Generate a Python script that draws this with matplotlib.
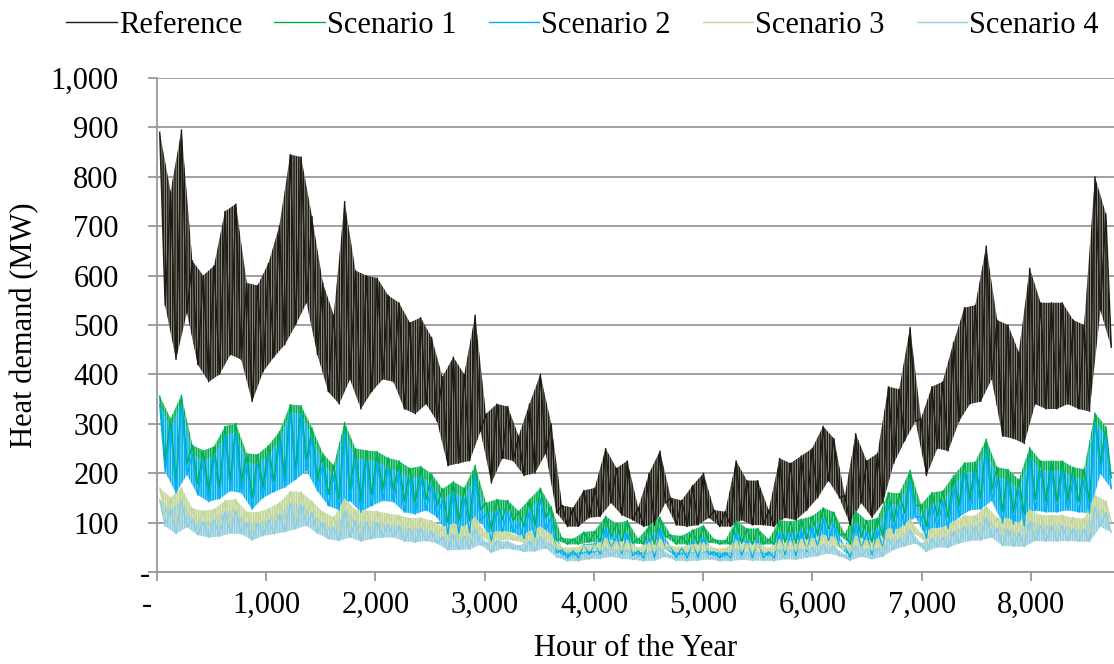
import numpy as np
import matplotlib
matplotlib.use('Agg')
import matplotlib.pyplot as plt
from matplotlib.lines import Line2D
from matplotlib.transforms import ScaledTranslation

ref_hi = [890, 770, 895, 630, 600, 620, 730, 745, 585, 580, 625, 700, 845, 840, 720, 585,
          520, 750, 610, 600, 595, 560, 545, 505, 515, 475, 395, 435, 400, 520, 320, 340,
          335, 275, 340, 400, 300, 135, 130, 165, 170, 250, 210, 225, 130, 200, 245, 150,
          145, 175, 200, 125, 122, 225, 185, 185, 125, 230, 220, 235, 250, 295, 270, 155,
          280, 225, 240, 375, 370, 495, 310, 375, 385, 465, 535, 540, 660, 510, 500, 445,
          615, 545, 545, 545, 510, 500, 800, 725]
ref_lo = [540, 430, 525, 420, 385, 400, 440, 430, 345, 405, 435, 460, 500, 545, 440, 365,
          340, 390, 330, 365, 390, 385, 330, 320, 340, 305, 215, 220, 225, 285, 180, 230,
          225, 195, 200, 240, 120, 92, 92, 110, 112, 140, 115, 105, 92, 95, 140, 95,
          92, 95, 110, 92, 92, 105, 95, 95, 92, 110, 105, 125, 150, 185, 150, 95,
          140, 110, 140, 220, 265, 305, 195, 250, 245, 305, 340, 345, 390, 275, 270, 260,
          340, 330, 330, 340, 330, 325, 530, 455]

s1_hi = [356, 311, 358, 257, 246, 254, 295, 301, 240, 238, 256, 284, 339, 337, 292, 240,
         216, 303, 250, 246, 244, 231, 225, 210, 214, 199, 168, 183, 170, 216, 140, 147,
         145, 123, 147, 170, 132, 69, 67, 81, 83, 113, 98, 104, 67, 94, 111, 75,
         73, 85, 94, 66, 64, 104, 88, 88, 66, 105, 102, 107, 113, 130, 121, 77,
         124, 104, 109, 161, 159, 206, 136, 161, 164, 195, 221, 223, 269, 212, 208, 187,
         252, 225, 225, 225, 212, 208, 322, 294]
s1_lo = [223, 181, 218, 178, 164, 170, 185, 181, 149, 172, 183, 193, 208, 225, 185, 157,
         147, 166, 143, 157, 166, 164, 143, 140, 147, 134, 100, 102, 104, 126, 86, 105,
         104, 92, 94, 109, 64, 56, 56, 60, 61, 71, 62, 58, 56, 56, 71, 56,
         56, 56, 60, 56, 56, 58, 56, 56, 56, 60, 58, 66, 75, 88, 75, 56,
         71, 60, 71, 102, 119, 134, 92, 113, 111, 134, 147, 149, 166, 123, 121, 117,
         147, 143, 143, 147, 143, 142, 219, 191]

s2_hi = [339, 292, 341, 238, 226, 234, 277, 283, 220, 218, 236, 265, 322, 320, 273, 220,
         195, 285, 230, 226, 224, 210, 205, 189, 193, 177, 146, 162, 148, 195, 117, 125,
         123, 99, 125, 148, 109, 45, 43, 56, 58, 90, 74, 80, 43, 70, 88, 51,
         49, 60, 70, 41, 40, 80, 64, 64, 41, 82, 78, 84, 90, 107, 97, 52,
         101, 80, 86, 138, 136, 185, 113, 138, 142, 173, 201, 203, 249, 191, 187, 166,
         232, 205, 205, 205, 191, 187, 304, 275]
s2_lo = [203, 160, 197, 156, 142, 148, 164, 160, 127, 150, 162, 171, 187, 205, 164, 134,
         125, 144, 121, 134, 144, 142, 121, 117, 125, 111, 76, 78, 80, 103, 62, 82,
         80, 68, 70, 86, 39, 28, 28, 35, 36, 47, 37, 33, 28, 29, 47, 29,
         28, 29, 35, 28, 28, 33, 29, 29, 28, 35, 33, 41, 51, 64, 51, 29,
         47, 35, 47, 78, 95, 111, 68, 90, 88, 111, 125, 127, 144, 99, 97, 93,
         125, 121, 121, 125, 121, 119, 199, 169]

s3_hi = [170, 151, 171, 129, 124, 127, 145, 147, 122, 121, 128, 140, 163, 162, 143, 122,
         111, 148, 126, 124, 123, 118, 115, 109, 110, 104, 91, 98, 92, 111, 79, 82,
         82, 72, 82, 92, 76, 50, 49, 54, 55, 68, 62, 64, 49, 60, 67, 52,
         51, 56, 60, 48, 48, 64, 58, 58, 48, 65, 63, 66, 68, 75, 71, 53,
         73, 64, 66, 88, 87, 107, 78, 88, 90, 102, 114, 114, 134, 110, 108, 99,
         126, 115, 115, 115, 110, 108, 156, 144]
s3_lo = [114, 97, 112, 95, 90, 92, 98, 97, 83, 93, 98, 102, 108, 115, 98, 86,
         82, 90, 81, 86, 90, 90, 81, 79, 82, 77, 62, 63, 64, 74, 57, 65,
         64, 59, 60, 66, 47, 40, 40, 43, 43, 47, 43, 42, 40, 40, 47, 40,
         40, 40, 43, 40, 40, 42, 40, 40, 40, 43, 42, 45, 49, 55, 49, 40,
         47, 43, 47, 63, 70, 77, 59, 68, 67, 77, 82, 83, 90, 72, 71, 70,
         82, 81, 81, 82, 81, 80, 113, 101]

s4_hi = [146, 128, 146, 107, 102, 105, 122, 124, 100, 99, 106, 117, 139, 138, 120, 100,
         90, 125, 104, 102, 101, 96, 94, 88, 89, 83, 71, 77, 72, 90, 60, 63,
         62, 53, 63, 72, 57, 32, 32, 37, 38, 50, 44, 46, 32, 42, 49, 34,
         34, 38, 42, 31, 30, 46, 40, 40, 31, 47, 45, 47, 50, 56, 52, 35,
         54, 46, 48, 68, 68, 86, 58, 68, 70, 82, 92, 93, 111, 88, 87, 79,
         104, 94, 94, 94, 88, 87, 132, 121]
s4_lo = [93, 77, 91, 75, 70, 72, 78, 77, 64, 73, 77, 81, 87, 94, 78, 67,
         63, 70, 62, 67, 70, 70, 62, 60, 63, 58, 44, 45, 46, 55, 39, 47,
         46, 41, 42, 48, 30, 22, 22, 26, 27, 31, 27, 25, 22, 23, 31, 23,
         22, 23, 26, 22, 22, 25, 23, 23, 22, 26, 25, 29, 32, 38, 32, 23,
         31, 26, 31, 45, 52, 58, 41, 50, 49, 58, 63, 64, 70, 53, 52, 51,
         63, 62, 62, 63, 62, 61, 92, 80]

names = ['Reference', 'Scenario 1', 'Scenario 2', 'Scenario 3', 'Scenario 4']
colors = ['#1e1b12', '#00b050', '#00b0f0', '#c4d79b', '#92cddc']
tints = ['#a3a29d', '#99dfb9', '#99dff9', '#e4edd3', '#cfe9f0']
x_ticks = [0, 1000, 2000, 3000, 4000, 5000, 6000, 7000, 8000]
x_labels = ['-', '1,000', '2,000', '3,000', '4,000', '5,000', '6,000', '7,000', '8,000']
y_ticks = [0, 100, 200, 300, 400, 500, 600, 700, 800, 900, 1000]
y_labels = ['-', '100', '200', '300', '400', '500', '600', '700', '800', '900', '1,000']

series = [(ref_hi, ref_lo), (s1_hi, s1_lo), (s2_hi, s2_lo), (s3_hi, s3_lo), (s4_hi, s4_lo)]

plt.rcParams['font.family'] = ['Liberation Serif', 'DejaVu Serif']
plt.rcParams['font.size'] = 22
plt.rcParams['hatch.linewidth'] = 1.1

fig = plt.figure(figsize=(11.14, 6.64), dpi=100)
ax = fig.add_axes([157/1114, 1-572/664, 957/1114, 494/664])

# each block: peak in its first half, trough in its second half
step = 8760 / len(ref_hi)
x_hi = step * (np.arange(len(ref_hi)) + 0.25)
x_lo = step * (np.arange(len(ref_hi)) + 0.75)
x_zig = np.column_stack((x_hi, x_lo)).ravel()

handles = []
for (hi, lo), name, c, t in zip(series, names, colors, tints):
    # band between peaks and troughs, stroked vertically like the daily swings
    ax.fill(np.r_[x_hi, x_lo[::-1]], np.r_[hi, lo[::-1]], facecolor=t, edgecolor=c,
            hatch='|||||||', linewidth=0)
    ax.plot(x_zig, np.column_stack((hi, lo)).ravel(), color=c, lw=1.0)
    handles.append(Line2D([], [], color=c, lw=1.0, label=name))

ax.set_xlim(0, 8760)
ax.set_ylim(0, 1000)
ax.set_xticks(x_ticks)
ax.set_xticklabels(x_labels)
ax.set_yticks(y_ticks)
ax.set_yticklabels(y_labels)
ax.grid(axis='y', color='#999999', lw=1.3)
ax.set_axisbelow(True)
for s in ['top', 'right']:
    ax.spines[s].set_visible(False)
for s in ['left', 'bottom']:
    ax.spines[s].set_color('#999999')
    ax.spines[s].set_linewidth(1.3)
ax.tick_params(axis='both', color='#999999', length=6.5, width=1.3)
ax.tick_params(axis='y', pad=21)
ax.tick_params(axis='x', pad=7)

# accounting style dashes for zero
ylab0 = ax.get_yticklabels()[0]
ylab0.set_transform(ylab0.get_transform() + ScaledTranslation(0.31, 0, fig.dpi_scale_trans))
xlab0 = ax.get_xticklabels()[0]
xlab0.set_transform(xlab0.get_transform() + ScaledTranslation(-0.10, 0, fig.dpi_scale_trans))

ax.set_xlabel('Hour of the Year')
ax.set_ylabel('Heat demand (MW)')
ax.xaxis.set_label_coords(0.5, -0.125)
ax.yaxis.set_label_coords(-0.123, 0.5)

fig.legend(handles=handles, loc='center', bbox_to_anchor=(0.523, 0.962), ncol=5,
           frameon=False, handlelength=1.65, handletextpad=0.07, columnspacing=1.05)

fig.savefig('out.png', dpi=100)
